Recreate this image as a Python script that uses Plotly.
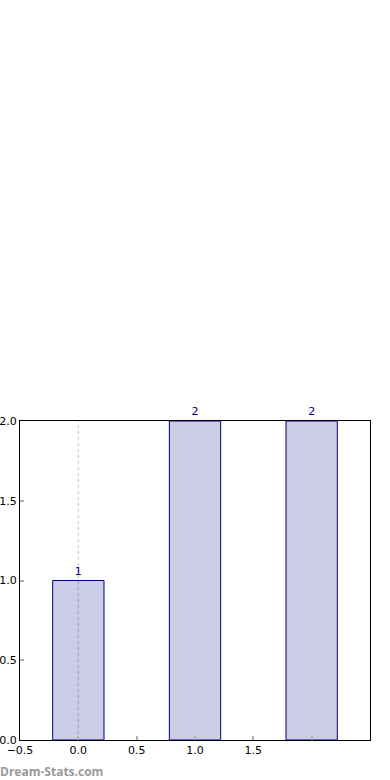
import plotly.graph_objects as go

categories = [0, 1, 2]
values = [1, 2, 2]
labels = ["1", "2", "2"]
xtick_vals = [-0.5, 0.0, 0.5, 1.0, 1.5, 2.0, 2.5]
xtick_text = ["\u22120.5", "0.0", "0.5", "1.0", "1.5", "", ""]
ytick_vals = [0.0, 0.5, 1.0, 1.5, 2.0]
ytick_text = ["0.0", "0.5", "1.0", "1.5", "2.0"]

font = "DejaVu Sans"
navy = "#000080"

fig = go.Figure()
fig.add_trace(go.Bar(
    x=categories, y=values, width=0.44,
    marker=dict(color="rgba(0,0,128,0.2)", line=dict(color=navy, width=1)),
    text=labels, textposition="outside", cliponaxis=False,
    textfont=dict(family=font, size=11, color=navy),
))

fig.add_shape(type="line", x0=0, x1=0, y0=0, y1=1, xref="x", yref="paper",
              line=dict(color="#d4d4d4", width=1.5, dash="dot"), layer="below")

fig.update_layout(
    width=390, height=780,
    margin=dict(l=20, r=20, t=421, b=40, autoexpand=False),
    plot_bgcolor="white", paper_bgcolor="white",
    showlegend=False,
    font=dict(family=font, size=11, color="black"),
    xaxis=dict(range=[-0.5, 2.5], tickvals=xtick_vals, ticktext=xtick_text,
               ticks="inside", ticklen=4, tickcolor="#b0b0b0", tickwidth=2,
               showgrid=False, zeroline=False, showline=True, linecolor="black",
               linewidth=1, mirror=True, tickfont=dict(size=11), automargin=False),
    yaxis=dict(range=[0, 2], tickvals=ytick_vals, ticktext=ytick_text,
               ticks="inside", ticklen=4, tickcolor="#b0b0b0", tickwidth=2,
               showgrid=False, zeroline=False, showline=True, linecolor="black",
               linewidth=1, mirror=True, tickfont=dict(size=11), automargin=False,
               ticklabelstandoff=0),
    annotations=[dict(text="<b>Dream-Stats.com</b>", x=0, y=0, xref="paper",
                      yref="paper", xanchor="left", yanchor="top",
                      xshift=-22, yshift=-21, showarrow=False,
                      font=dict(family="Open Sans", size=12, color="#999999"))],
)

fig.write_html("out.html")
